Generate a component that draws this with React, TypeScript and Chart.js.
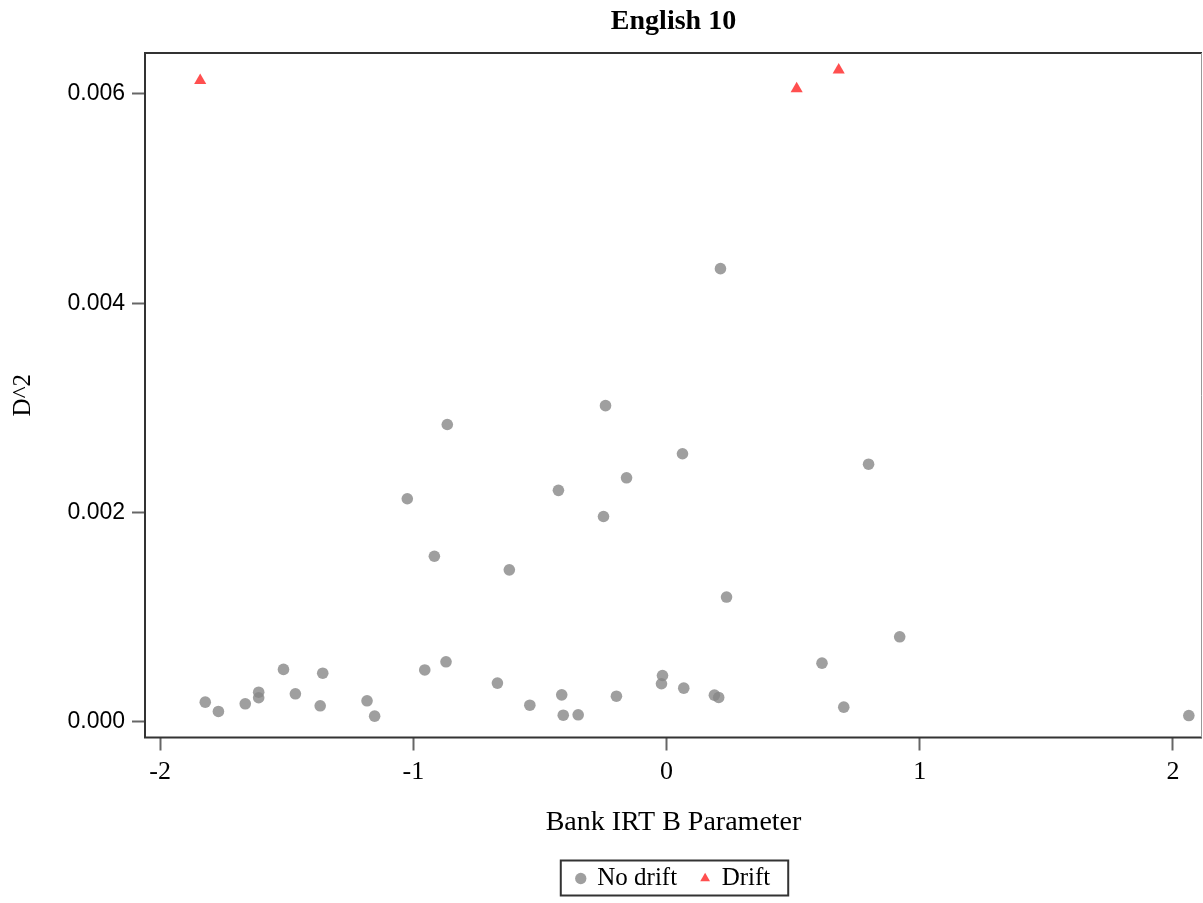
import React, { useEffect, useRef } from "react";
import { Chart, registerables } from "chart.js";

Chart.register(...registerables);

const chartTitle = "English 10";
const xAxisTitle = "Bank IRT B Parameter";
const yAxisTitle = "D^2";
const seriesNames = ["No drift", "Drift"];

const noDriftX = [
  0.213, -0.241, -0.866, 0.063, 0.798, -0.158, -0.427, -1.024, -0.249, -0.917,
  -0.621, 0.237, 0.921, 0.614, -0.871, -0.955, -1.513, -1.358, -0.668, -0.016,
  -0.02, 0.068, -1.611, -1.611, -1.466, -1.664, -1.822, -1.77, -1.368, -1.183,
  -1.153, -0.54, -0.414, -0.408, -0.349, -0.198, 0.189, 0.206, 0.7, 2.063,
];
const noDriftY = [
  0.00433, 0.00302, 0.00284, 0.00256, 0.00246, 0.00233, 0.00221, 0.00213, 0.00196, 0.00158,
  0.00145, 0.00119, 0.00081, 0.000558, 0.000571, 0.000493, 0.000498, 0.000462, 0.000367, 0.00044,
  0.000361, 0.000319, 0.00028, 0.000227, 0.000265, 0.000169, 0.000185, 0.000096, 0.00015, 0.000198,
  0.000051, 0.000156, 0.000255, 0.00006, 0.000064, 0.000242, 0.000252, 0.00023, 0.000137, 0.000057,
];
const driftX = [-1.842, 0.514, 0.68];
const driftY = [0.00613, 0.00605, 0.00623];

const xMin = -2.06;
const xMax = 2.115;
const xStep = 1;
const yMin = -0.000153;
const yMax = 0.006392;
const yStep = 0.002;

const frame = {
  id: "frame",
  afterDraw(chart: any) {
    const { ctx, chartArea: a } = chart;
    ctx.save();
    ctx.lineWidth = 2;
    ctx.strokeStyle = "#333";
    ctx.beginPath();
    ctx.moveTo(a.right, a.top);
    ctx.lineTo(a.left, a.top);
    ctx.lineTo(a.left, a.bottom);
    ctx.lineTo(a.right, a.bottom);
    ctx.stroke();
    ctx.lineWidth = 1;
    ctx.strokeStyle = "#999";
    ctx.beginPath();
    ctx.moveTo(a.right - 0.5, a.top);
    ctx.lineTo(a.right - 0.5, a.bottom);
    ctx.stroke();
    // legend border
    const lg = chart.legend;
    const hb = lg && lg.legendHitBoxes;
    if (hb && hb.length) {
      const first = hb[0];
      const last = hb[hb.length - 1];
      const x0 = first.left - 16;
      const x1 = last.left + last.width + 18;
      const y0 = first.top - 5.5;
      const y1 = first.top + first.height + 4.5;
      ctx.lineWidth = 2;
      ctx.strokeStyle = "#333";
      ctx.strokeRect(x0, y0, x1 - x0, y1 - y0);
    }
    ctx.restore();
  },
};

export default function App() {
  const ref = useRef<HTMLCanvasElement | null>(null);
  useEffect(() => {
    if (!ref.current) return;
    const serif = "'Liberation Serif', 'Times New Roman', serif";
    const sans = "'Liberation Sans', Arial, sans-serif";
    const chart = new Chart(ref.current, {
      type: "scatter",
      data: {
        datasets: [
          {
            label: seriesNames[0],
            data: noDriftX.map((x, i) => ({ x, y: noDriftY[i] })),
            pointStyle: "circle",
            pointRadius: 5.8,
            pointBorderWidth: 0,
            backgroundColor: "rgba(135,135,135,0.8)",
            borderColor: "rgba(135,135,135,0.8)",
          },
          {
            label: seriesNames[1],
            data: driftX.map((x, i) => ({ x, y: driftY[i] })),
            pointStyle: "triangle",
            pointRadius: 7,
            pointBorderWidth: 0,
            backgroundColor: "rgba(255,60,60,0.9)",
            borderColor: "rgba(255,60,60,0.9)",
          },
        ],
      },
      options: {
        animation: false,
        responsive: true,
        maintainAspectRatio: false,
        layout: { autoPadding: false, padding: { left: 0, right: 1, top: 0, bottom: 2 } },
        plugins: {
          title: {
            display: true,
            text: chartTitle,
            fullSize: false,
            color: "#000",
            font: { family: serif, size: 28, weight: "bold" },
            padding: { top: 5.2, bottom: 14.2 },
          },
          legend: {
            display: true,
            position: "bottom",
            fullSize: false,
            labels: {
              usePointStyle: true,
              boxWidth: 8,
              boxHeight: 8,
              padding: 24,
              color: "#000",
              font: { family: serif, size: 25 },
            },
          },
          tooltip: { enabled: false },
        },
        scales: {
          x: {
            type: "linear",
            min: xMin,
            max: xMax,
            afterFit: (s: any) => {
              s.height = 104.5;
            },
            border: { display: false },
            grid: {
              drawOnChartArea: false,
              drawTicks: true,
              tickLength: 13,
              tickColor: "#666",
              tickWidth: 2,
            },
            ticks: {
              stepSize: xStep,
              includeBounds: false,
              padding: 6,
              color: "#000",
              font: { family: serif, size: 26 },
              callback: (v: any) => String(v),
            },
            title: {
              display: true,
              text: xAxisTitle,
              color: "#000",
              font: { family: serif, size: 28 },
              padding: { top: 0, bottom: 3 },
            },
          },
          y: {
            type: "linear",
            min: yMin,
            max: yMax,
            afterFit: (s: any) => {
              s.width = 145;
            },
            border: { display: false },
            grid: {
              drawOnChartArea: false,
              drawTicks: true,
              tickLength: 13,
              tickColor: "#666",
              tickWidth: 2,
            },
            ticks: {
              stepSize: yStep,
              includeBounds: false,
              padding: 7,
              color: "#000",
              font: { family: sans, size: 23 },
              callback: (v: any) => Number(v).toFixed(3),
            },
            title: {
              display: true,
              text: yAxisTitle,
              color: "#000",
              font: { family: serif, size: 25 },
              padding: { top: 8, bottom: 0 },
            },
          },
        },
      },
      plugins: [frame],
    });
    return () => chart.destroy();
  }, []);
  return (
    <div style={{ position: "absolute", left: 0, top: 0, width: 1203, height: 903, background: "#fff" }}>
      <canvas ref={ref} />
    </div>
  );
}
